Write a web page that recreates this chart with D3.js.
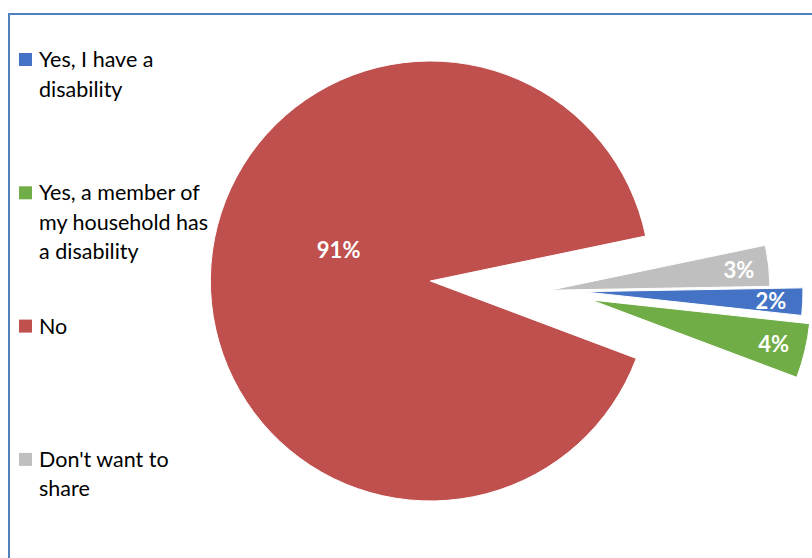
<!DOCTYPE html>
<html>
<head>
<meta charset="utf-8">
<script src="https://cdn.jsdelivr.net/npm/d3@7"></script>
<style>
  html, body { margin: 0; padding: 0; background: #fff; }
  svg { display: block; }
</style>
</head>
<body>
<svg id="chart" width="812" height="558"></svg>
<script>
// Survey responses: disability in the household
const categories = [
  "Yes, I have a disability",
  "Yes, a member of my household has a disability",
  "No",
  "Don't want to share"
];
const values = [2, 4, 91, 3];
const valueLabels = ["2%", "4%", "91%", "3%"];
const colors = ["#4472C4", "#70AD47", "#C0504D", "#BFBFBF"];

// Layout / style settings
const W = 812, H = 558;
const center = { x: 550, y: 290.2 };
const radius = 220;
const startDeg = 89;                 // where the first slice begins (clockwise from 12 o'clock)
const explodeBy = [33, 42, 120, 0];  // how far each slice is pulled out along its bisector
const labelRadius = [188, 188, 97, 190];
const labelShiftDeg = [0, 0, 14.6, 0];
const legendFont = "Lato, 'Open Sans', sans-serif";
const legendSize = 21.5;
const legendWrap = 176;

const svg = d3.select("#chart");

// chart frame (only the top and left edges fall inside the view)
svg.append("rect")
  .attr("x", 9).attr("y", 14)
  .attr("width", W + 20).attr("height", H + 20)
  .attr("fill", "#fff")
  .attr("stroke", "#4F81BD")
  .attr("stroke-width", 2);

const data = categories.map((c, i) => ({ cat: c, value: values[i], label: valueLabels[i], color: colors[i], i }));

const pie = d3.pie()
  .sort(null)
  .value(d => d.value)
  .startAngle(startDeg * Math.PI / 180)
  .endAngle(startDeg * Math.PI / 180 + 2 * Math.PI);

const arcs = pie(data);
const arc = d3.arc().innerRadius(0).outerRadius(radius);

const pieG = svg.append("g").attr("transform", `translate(${center.x},${center.y})`);

const offset = (a, d) => [d * Math.sin(a), -d * Math.cos(a)];

const slices = pieG.selectAll("g.slice")
  .data(arcs)
  .join("g")
  .attr("class", "slice")
  .attr("transform", d => {
    const mid = (d.startAngle + d.endAngle) / 2;
    const [dx, dy] = offset(mid, explodeBy[d.data.i]);
    return `translate(${dx},${dy})`;
  });

slices.append("path")
  .attr("d", arc)
  .attr("fill", d => d.data.color)
  .attr("stroke", "#fff")
  .attr("stroke-width", 1);

slices.append("text")
  .attr("transform", d => {
    const mid = (d.startAngle + d.endAngle) / 2 + labelShiftDeg[d.data.i] * Math.PI / 180;
    const [x, y] = offset(mid, labelRadius[d.data.i]);
    return `translate(${x},${y})`;
  })
  .attr("text-anchor", "middle")
  .attr("dominant-baseline", "central")
  .attr("fill", "#fff")
  .attr("font-family", "Lato, 'Open Sans', sans-serif")
  .attr("font-weight", "bold")
  .attr("font-size", 22)
  .text(d => d.data.label);

// Legend on the left, drawn above the pie
const legend = svg.append("g");
const itemStep = 133.3;
const firstBaseline = 67;
const lineHeight = 29.5;

data.forEach((d, i) => {
  const base = firstBaseline + i * itemStep;
  const g = legend.append("g");
  g.append("rect")
    .attr("x", 19).attr("y", base - 14)
    .attr("width", 13).attr("height", 13)
    .attr("fill", d.color);
  const t = g.append("text")
    .attr("x", 39).attr("y", base)
    .attr("font-family", legendFont)
    .attr("font-size", legendSize)
    .attr("fill", "#000");
  // greedy word wrap
  const words = d.cat.split(" ");
  let line = [];
  let tspan = t.append("tspan").attr("x", 39).attr("dy", 0);
  words.forEach(w => {
    line.push(w);
    tspan.text(line.join(" "));
    if (tspan.node().getComputedTextLength() > legendWrap && line.length > 1) {
      line.pop();
      tspan.text(line.join(" "));
      line = [w];
      tspan = t.append("tspan").attr("x", 39).attr("dy", lineHeight).text(w);
    }
  });
});
</script>
</body>
</html>
